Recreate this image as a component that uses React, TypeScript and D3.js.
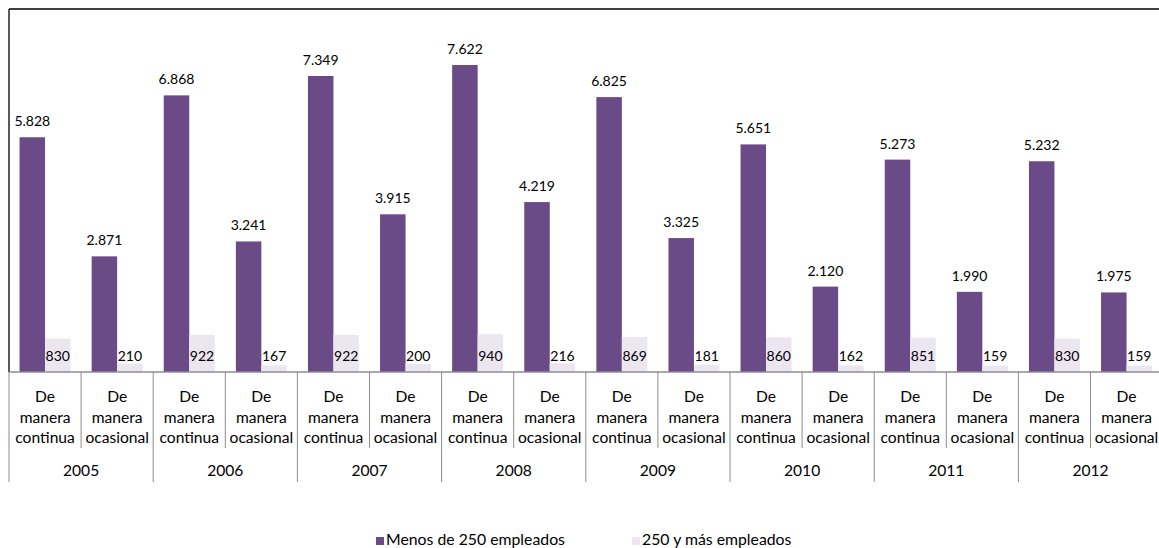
import React from "react";
import * as d3 from "d3";

const years = ["2005", "2006", "2007", "2008", "2009", "2010", "2011", "2012"];
const modes = ["De manera continua", "De manera ocasional"];
const seriesNames = ["Menos de 250 empleados", "250 y más empleados"];
// values per year: [continua, ocasional]
const menos250Continua = [5828, 6868, 7349, 7622, 6825, 5651, 5273, 5232];
const menos250Ocasional = [2871, 3241, 3915, 4219, 3325, 2120, 1990, 1975];
const mas250Continua = [830, 922, 922, 940, 869, 860, 851, 830];
const mas250Ocasional = [210, 167, 200, 216, 181, 162, 159, 159];
const colors = ["#6A4A87", "#ECE6F0"];

const W = 1159;
const H = 548;
const FONT = "Lato, 'Open Sans', sans-serif";

export default function App() {
  const left = 9;
  const top = 9.5;
  const base = 372;
  const catCount = years.length * modes.length;
  const catW = 72.1;

  const cats = years.flatMap((y, yi) =>
    modes.map((m, mi) => ({
      key: `${y}-${mi}`,
      year: y,
      mode: m,
      values: [
        mi === 0 ? menos250Continua[yi] : menos250Ocasional[yi],
        mi === 0 ? mas250Continua[yi] : mas250Ocasional[yi],
      ],
    }))
  );

  const x = d3
    .scaleBand<string>()
    .domain(cats.map((c) => c.key))
    .range([left, left + catW * catCount])
    .padding(0);
  const xs = d3
    .scaleBand<number>()
    .domain([0, 1])
    .range([0, x.bandwidth()])
    .paddingInner(0)
    .paddingOuter(0.414);
  const y = d3.scaleLinear().domain([0, 9000]).range([base, top]);

  const loc = d3.formatLocale({
    decimal: ",",
    thousands: ".",
    grouping: [3],
    currency: ["", "€"],
  });
  const fmt = loc.format(",d");

  return (
    <svg
      width={W}
      height={H}
      style={{ position: "absolute", left: 0, top: 0, background: "#fff" }}
      fontFamily={FONT}
    >
      {/* frame lines */}
      <line x1={left} x2={W} y1={9} y2={9} stroke="#000" strokeWidth={1.3} />
      <line x1={left} x2={left} y1={9} y2={base} stroke="#000" strokeWidth={1.3} />

      {/* bars */}
      {cats.map((c) => (
        <g key={c.key} transform={`translate(${x(c.key)},0)`}>
          {c.values.map((v, si) => (
            <rect
              key={si}
              x={xs(si)}
              y={y(v)}
              width={xs.bandwidth()}
              height={base - y(v)}
              fill={colors[si]}
            />
          ))}
          <text
            x={(xs(0) as number) + xs.bandwidth() / 2}
            y={y(c.values[0]) - 11}
            textAnchor="middle"
            fontSize={14}
            fill="#000"
          >
            {fmt(c.values[0])}
          </text>
          <text
            x={(xs(1) as number) + xs.bandwidth() / 2}
            y={base - 11}
            textAnchor="middle"
            fontSize={14}
            fill="#000"
          >
            {fmt(c.values[1])}
          </text>
        </g>
      ))}

      {/* axis */}
      <line x1={left} x2={W} y1={base} y2={base} stroke="#8c8c8c" strokeWidth={1.3} />
      {d3.range(catCount + 1).map((i) => {
        const xx = left + i * catW;
        return (
          <line
            key={i}
            x1={xx}
            x2={xx}
            y1={base}
            y2={i % 2 === 0 ? 482 : 448}
            stroke="#8c8c8c"
            strokeWidth={1}
          />
        );
      })}
      {cats.map((c) => {
        const cx = (x(c.key) as number) + x.bandwidth() / 2;
        const words = c.mode.split(" ");
        return (
          <text key={c.key} textAnchor="middle" fontSize={15.6} fill="#000">
            {words.map((w, i) => (
              <tspan key={i} x={cx} y={402 + i * 20.5}>
                {w}
              </tspan>
            ))}
          </text>
        );
      })}
      {years.map((yr, yi) => (
        <text
          key={yr}
          x={left + (yi * 2 + 1) * catW}
          y={476}
          textAnchor="middle"
          fontSize={15.6}
          fill="#000"
        >
          {yr}
        </text>
      ))}

      {/* legend */}
      {seriesNames.map((s, i) => {
        const lx = i === 0 ? 376 : 632;
        return (
          <g key={s} transform={`translate(${lx},0)`}>
            <rect x={0} y={537} width={8} height={8} fill={colors[i]} />
            <text x={10} y={545} fontSize={15.8} fill="#000">
              {s}
            </text>
          </g>
        );
      })}
    </svg>
  );
}
